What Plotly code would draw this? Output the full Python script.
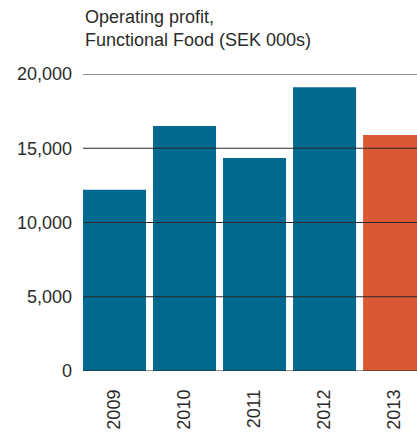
import plotly.graph_objects as go

years = ["2009", "2010", "2011", "2012", "2013"]
profit = [12200, 16500, 14350, 19100, 15900]
bar_colors = ["#00698F", "#00698F", "#00698F", "#00698F", "#D95935"]
y_ticks = [0, 5000, 10000, 15000, 20000]
y_tick_labels = ["0", "5,000", "10,000", "15,000", "20,000"]
title_text = "Operating profit,<br>Functional Food (SEK 000s)"

FONT = "Liberation Sans, Arial, sans-serif"
TXT = "#2b2b2b"

fig = go.Figure()
fig.add_trace(go.Bar(x=years, y=profit, marker=dict(color=bar_colors, line=dict(width=0)),
                     hoverinfo="skip"))

for v in y_ticks:
    fig.add_shape(type="line", xref="paper", x0=0, x1=1, yref="y", y0=v, y1=v,
                  line=dict(color="#2a2a2a", width=1.2), layer="above")

fig.add_annotation(text=title_text, xref="paper", yref="paper", x=0, y=1,
                   xanchor="left", yanchor="bottom", yshift=22, showarrow=False,
                   align="left", font=dict(family=FONT, size=18, color=TXT))

fig.update_layout(
    width=417, height=436,
    margin=dict(l=83, r=0, t=74, b=65),
    paper_bgcolor="white", plot_bgcolor="white",
    bargap=0.1, showlegend=False,
    font=dict(family=FONT, size=18, color=TXT),
    xaxis=dict(type="category", range=[-0.45, 4.32], tickangle=-90, showgrid=False,
               showline=False, zeroline=False, ticks="", ticklabelstandoff=14,
               tickfont=dict(family=FONT, size=18, color=TXT)),
    yaxis=dict(range=[0, 20000], tickvals=y_ticks, ticktext=y_tick_labels,
               showgrid=False, zeroline=False, showline=False, ticks="",
               ticklabelstandoff=10, tickfont=dict(family=FONT, size=18, color=TXT)),
)

fig.write_html("out.html")
